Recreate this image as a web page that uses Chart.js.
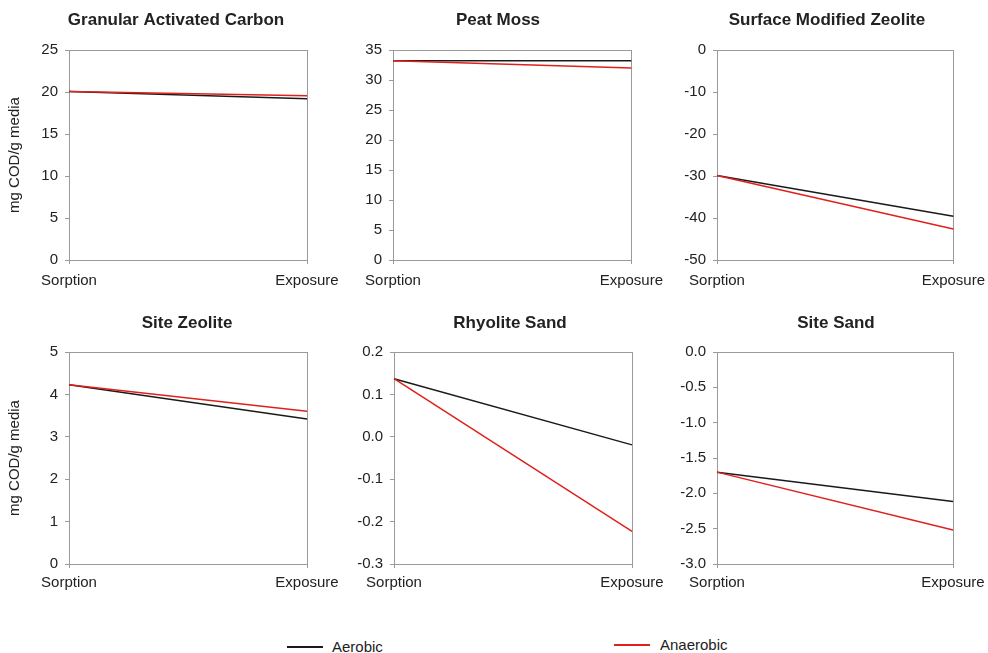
<!DOCTYPE html>
<html><head><meta charset="utf-8">
<script src="https://cdn.jsdelivr.net/npm/chart.js@4"></script>
<style>
html,body{margin:0;padding:0;background:#fff;overflow:hidden;width:988px;height:653px;position:relative;font-family:"Liberation Sans",Arial,sans-serif;}
canvas{position:absolute;}
.leg{position:absolute;font-size:15px;color:#222;line-height:18px;white-space:nowrap;}
.legline{position:absolute;height:1.5px;width:36px;}
</style></head><body>
<div class="legline" style="left:287px;top:646px;background:#1a1a1a;"></div>
<div class="leg" id="leg0" style="left:332px;top:638px;"></div>
<div class="legline" style="left:614px;top:644px;background:#e0201c;"></div>
<div class="leg" id="leg1" style="left:660px;top:636px;"></div>
<script>
// ---- data ----
const categories = ['Sorption', 'Exposure'];
const seriesNames = ['Aerobic', 'Anaerobic'];
const panelTitles = ['Granular Activated Carbon', 'Peat Moss', 'Surface Modified Zeolite', 'Site Zeolite', 'Rhyolite Sand', 'Site Sand'];
const yAxisTitle = 'mg COD/g media';

const gacAerobic = [20.05, 19.2];
const gacAnaerobic = [20.05, 19.55];
const peatAerobic = [33.2, 33.2];
const peatAnaerobic = [33.2, 32.0];
const smzAerobic = [-29.9, -39.6];
const smzAnaerobic = [-29.9, -42.6];
const siteZeoliteAerobic = [4.23, 3.42];
const siteZeoliteAnaerobic = [4.23, 3.60];
const rhyoliteAerobic = [0.137, -0.019];
const rhyoliteAnaerobic = [0.137, -0.223];
const siteSandAerobic = [-1.70, -2.115];
const siteSandAnaerobic = [-1.70, -2.52];

const yMin = [0, 0, -50, 0, -0.3, -3];
const yMax = [25, 35, 0, 5, 0.2, 0];
const yStep = [5, 5, 10, 1, 0.1, 0.5];
const yDecimals = [0, 0, 0, 0, 1, 1];

const aerobicSeries = [gacAerobic, peatAerobic, smzAerobic, siteZeoliteAerobic, rhyoliteAerobic, siteSandAerobic];
const anaerobicSeries = [gacAnaerobic, peatAnaerobic, smzAnaerobic, siteZeoliteAnaerobic, rhyoliteAnaerobic, siteSandAnaerobic];

// ---- layout (canvas placement) ----
const layoutCfg = [
  {L: 4,   T: 0,   W: 344, H: 300, yW: 65, padR: 41, xH: 40, xPad: 8, titleCx: 176, titleY: 20.5, yTitle: true},
  {L: 330, T: 0,   W: 341, H: 300, yW: 63, padR: 38, xH: 40, xPad: 8, titleCx: 498, titleY: 20.5, yTitle: false},
  {L: 666, T: 0,   W: 327, H: 300, yW: 51, padR: 38, xH: 40, xPad: 8, titleCx: 827, titleY: 20.5, yTitle: false},
  {L: 4,   T: 302, W: 344, H: 300, yW: 65, padR: 41, xH: 38, xPad: 6, titleCx: 187, titleY: 21.5, yTitle: true},
  {L: 350, T: 302, W: 320, H: 300, yW: 44, padR: 38, xH: 38, xPad: 6, titleCx: 510, titleY: 21.5, yTitle: false},
  {L: 676, T: 302, W: 315, H: 300, yW: 41, padR: 38, xH: 38, xPad: 6, titleCx: 836, titleY: 21.5, yTitle: false}
];

document.getElementById('leg0').textContent = seriesNames[0];
document.getElementById('leg1').textContent = seriesNames[1];

const FONT = '"Liberation Sans", Arial, sans-serif';
const AXIS_GRAY = '#9a9a9a';
const TEXT = '#222';

const boxPlugin = {
  id: 'plotBox',
  beforeDatasetsDraw(chart) {
    const {ctx, chartArea: a} = chart;
    ctx.save();
    ctx.strokeStyle = AXIS_GRAY;
    ctx.lineWidth = 1;
    ctx.strokeRect(Math.round(a.left) + 0.5, Math.round(a.top) + 0.5,
                   Math.round(a.right - a.left), Math.round(a.bottom - a.top));
    ctx.restore();
  }
};

const panelTitlePlugin = {
  id: 'panelTitle',
  afterDraw(chart, args, opts) {
    const {ctx} = chart;
    ctx.save();
    ctx.font = 'bold 17px ' + FONT;
    ctx.fillStyle = TEXT;
    ctx.textAlign = 'center';
    ctx.textBaseline = 'middle';
    ctx.fillText(opts.text, opts.x, opts.y);
    ctx.restore();
  }
};

layoutCfg.forEach((c, i) => {
  const cv = document.createElement('canvas');
  cv.width = c.W; cv.height = c.H;
  cv.style.left = c.L + 'px'; cv.style.top = c.T + 'px';
  cv.style.width = c.W + 'px'; cv.style.height = c.H + 'px';
  document.body.appendChild(cv);
  new Chart(cv, {
    type: 'line',
    data: {
      labels: categories,
      datasets: [
        {label: seriesNames[0], data: aerobicSeries[i], borderColor: '#1a1a1a', borderWidth: 1.5, pointRadius: 0, tension: 0, order: 1},
        {label: seriesNames[1], data: anaerobicSeries[i], borderColor: '#e0201c', borderWidth: 1.5, pointRadius: 0, tension: 0, order: 0}
      ]
    },
    options: {
      responsive: false,
      animation: false,
      devicePixelRatio: 1,
      layout: {padding: {left: 0, right: c.padR, top: 50, bottom: 0}},
      plugins: {
        legend: {display: false},
        tooltip: {enabled: false},
        title: {display: false},
        panelTitle: {text: panelTitles[i], x: c.titleCx - c.L, y: c.titleY}
      },
      scales: {
        x: {
          type: 'category', offset: false,
          grid: {display: true, drawOnChartArea: false, drawTicks: true, tickLength: 4, color: AXIS_GRAY},
          border: {display: true, color: AXIS_GRAY},
          ticks: {color: TEXT, font: {family: FONT, size: 15}, padding: c.xPad, maxRotation: 0, autoSkip: false},
          afterFit(s) { s.height = c.xH; }
        },
        y: {
          min: yMin[i], max: yMax[i],
          grid: {display: true, drawOnChartArea: false, drawTicks: true, tickLength: 4, color: AXIS_GRAY},
          border: {display: true, color: AXIS_GRAY},
          ticks: {
            stepSize: yStep[i], color: TEXT, font: {family: FONT, size: 15}, padding: 7,
            callback: v => Number(v).toFixed(yDecimals[i])
          },
          title: {
            display: c.yTitle, text: yAxisTitle, color: TEXT,
            font: {family: FONT, size: 15}, padding: {top: 2, bottom: 0}
          },
          afterFit(s) { s.width = c.yW; }
        }
      }
    },
    plugins: [boxPlugin, panelTitlePlugin]
  });
});
</script>
</body></html>
